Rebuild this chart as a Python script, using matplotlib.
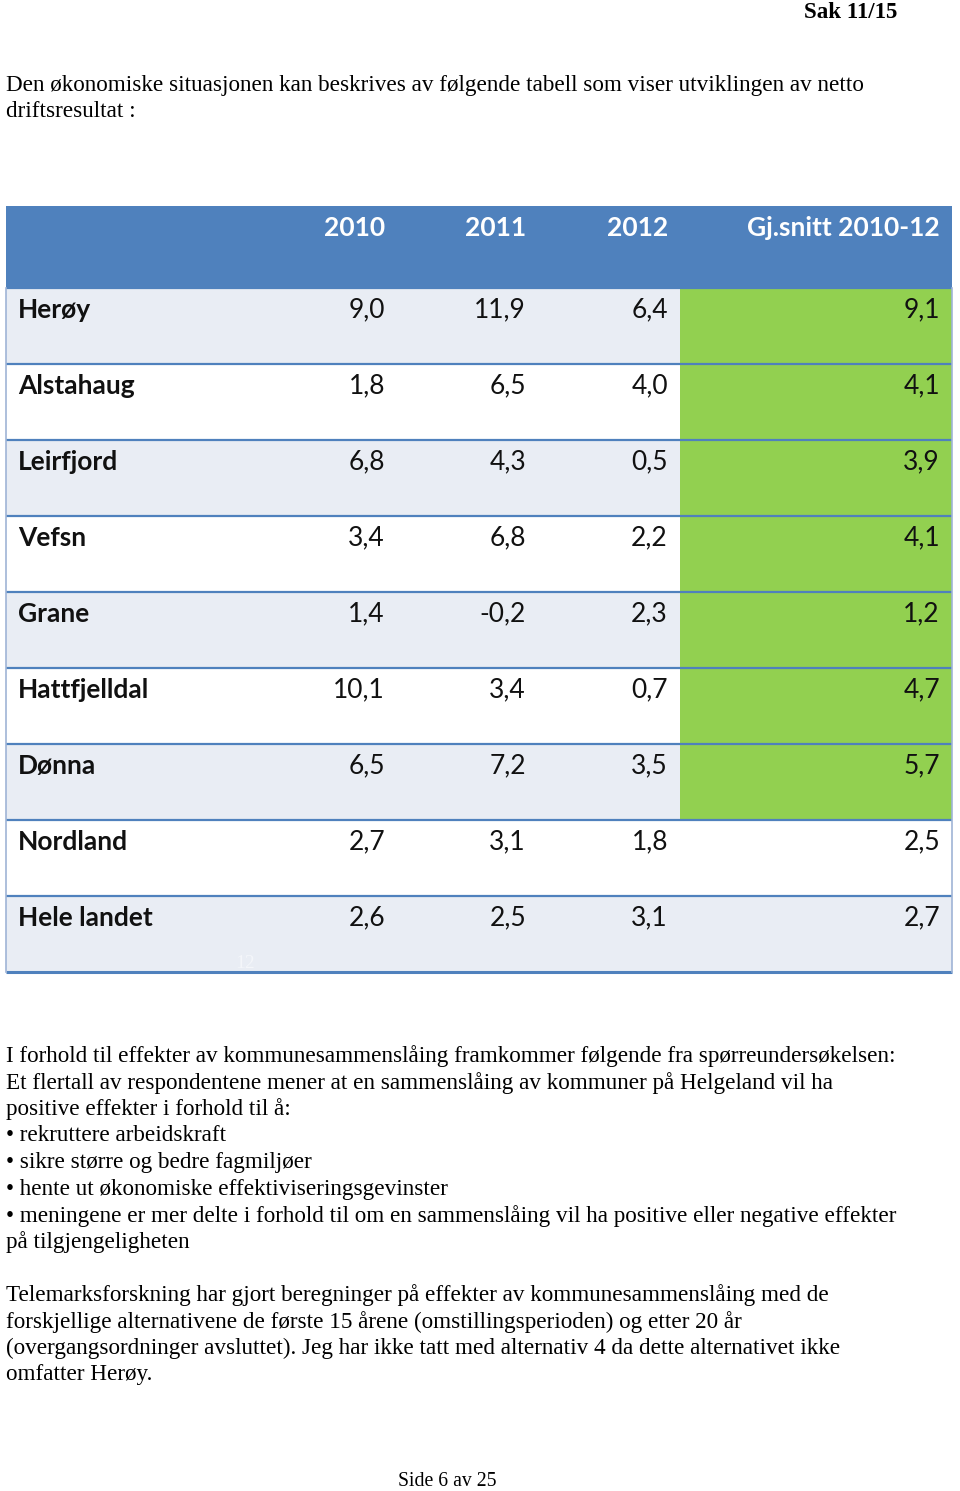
import matplotlib.pyplot as plt
from matplotlib.patches import Rectangle

# table data
years = ["2010", "2011", "2012", "Gj.snitt 2010-12"]
kommuner = ["Herøy", "Alstahaug", "Leirfjord", "Vefsn", "Grane",
            "Hattfjelldal", "Dønna", "Nordland", "Hele landet"]
v2010 = [9.0, 1.8, 6.8, 3.4, 1.4, 10.1, 6.5, 2.7, 2.6]
v2011 = [11.9, 6.5, 4.3, 6.8, -0.2, 3.4, 7.2, 3.1, 2.5]
v2012 = [6.4, 4.0, 0.5, 2.2, 2.3, 0.7, 3.5, 1.8, 3.1]
snitt = [9.1, 4.1, 3.9, 4.1, 1.2, 4.7, 5.7, 2.5, 2.7]
highlight = [True, True, True, True, True, True, True, False, False]

intro = ["Den økonomiske situasjonen kan beskrives av følgende tabell som viser utviklingen av netto",
         "driftsresultat :"]
body = ["I forhold til effekter av kommunesammenslåing framkommer følgende fra spørreundersøkelsen:",
        "Et flertall av respondentene mener at en sammenslåing av kommuner på Helgeland vil ha",
        "positive effekter i forhold til å:",
        "• rekruttere arbeidskraft",
        "• sikre større og bedre fagmiljøer",
        "• hente ut økonomiske effektiviseringsgevinster",
        "• meningene er mer delte i forhold til om en sammenslåing vil ha positive eller negative effekter",
        "på tilgjengeligheten"]
body2 = ["Telemarksforskning har gjort beregninger på effekter av kommunesammenslåing med de",
         "forskjellige alternativene de første 15 årene (omstillingsperioden) og etter 20 år",
         "(overgangsordninger avsluttet). Jeg har ikke tatt med alternativ 4 da dette alternativet ikke",
         "omfatter Herøy."]

def fmt(v):
    return f"{v:.1f}".replace(".", ",")

fig = plt.figure(figsize=(9.6, 14.91), dpi=100)
ax = fig.add_axes([0, 0, 1, 1])
ax.set_xlim(0, 960)
ax.set_ylim(1491, 0)
ax.axis("off")

serif = ["Liberation Serif", "DejaVu Serif"]
tfont = ["Lato", "DejaVu Sans"]
blue = "#4f81bd"
green = "#92d050"
light = "#e9edf4"
fs = 16.7

# page text
ax.text(897, 13, "Sak 11/15", ha="right", va="center", fontsize=16.5,
        fontweight="bold", family=serif)
for i, line in enumerate(intro):
    ax.text(6, 85 + i * 26.6, line, ha="left", va="center", fontsize=fs, family=serif)
for i, line in enumerate(body):
    ax.text(6, 1056 + i * 26.6, line, ha="left", va="center", fontsize=fs, family=serif)
for i, line in enumerate(body2):
    ax.text(6, 1295 + i * 26.6, line, ha="left", va="center", fontsize=fs, family=serif)
ax.text(447, 1482, "Side 6 av 25", ha="center", va="center", fontsize=14.2, family=serif)

# table geometry
left, right = 6, 952
top, head_h, row_h = 206, 82, 76
col_right = [385, 526, 668, 940]
green_x = 680

ax.add_patch(Rectangle((left, top), right - left, head_h, color=blue, lw=0))
for j, y in enumerate(years):
    ax.text(col_right[j], top + 22, y, ha="right", va="center", color="white",
            fontsize=19, fontweight="bold", family=tfont)

cols = [v2010, v2011, v2012, snitt]
for i, name in enumerate(kommuner):
    y0 = top + head_h + i * row_h
    bg = light if i % 2 == 0 else "white"
    ax.add_patch(Rectangle((left, y0), right - left, row_h, color=bg, lw=0))
    if highlight[i]:
        ax.add_patch(Rectangle((green_x, y0), right - green_x, row_h, color=green, lw=0))
    ax.plot([left, right], [y0, y0], color=blue, lw=1.6, solid_capstyle="butt")
    ax.text(18, y0 + 22, name, ha="left", va="center", fontsize=19,
            fontweight="bold", family=tfont, color="#111111")
    for j, c in enumerate(cols):
        ax.text(col_right[j], y0 + 22, fmt(c[i]), ha="right", va="center",
                fontsize=19, family=tfont, color="#111111")

bottom = top + head_h + len(kommuner) * row_h
ax.plot([left, right], [bottom, bottom], color=blue, lw=2.2, solid_capstyle="butt")
ax.plot([left, left], [top + head_h, bottom], color="#9fb4d6", lw=1.2)
ax.plot([right, right], [top + head_h, bottom], color="#9fb4d6", lw=1.2)

# faint page number left over in the table image
ax.text(245, 964, "12", ha="center", va="center", fontsize=14, family=serif,
        color="#f4f6fa")

fig.savefig("out.png", dpi=100)
